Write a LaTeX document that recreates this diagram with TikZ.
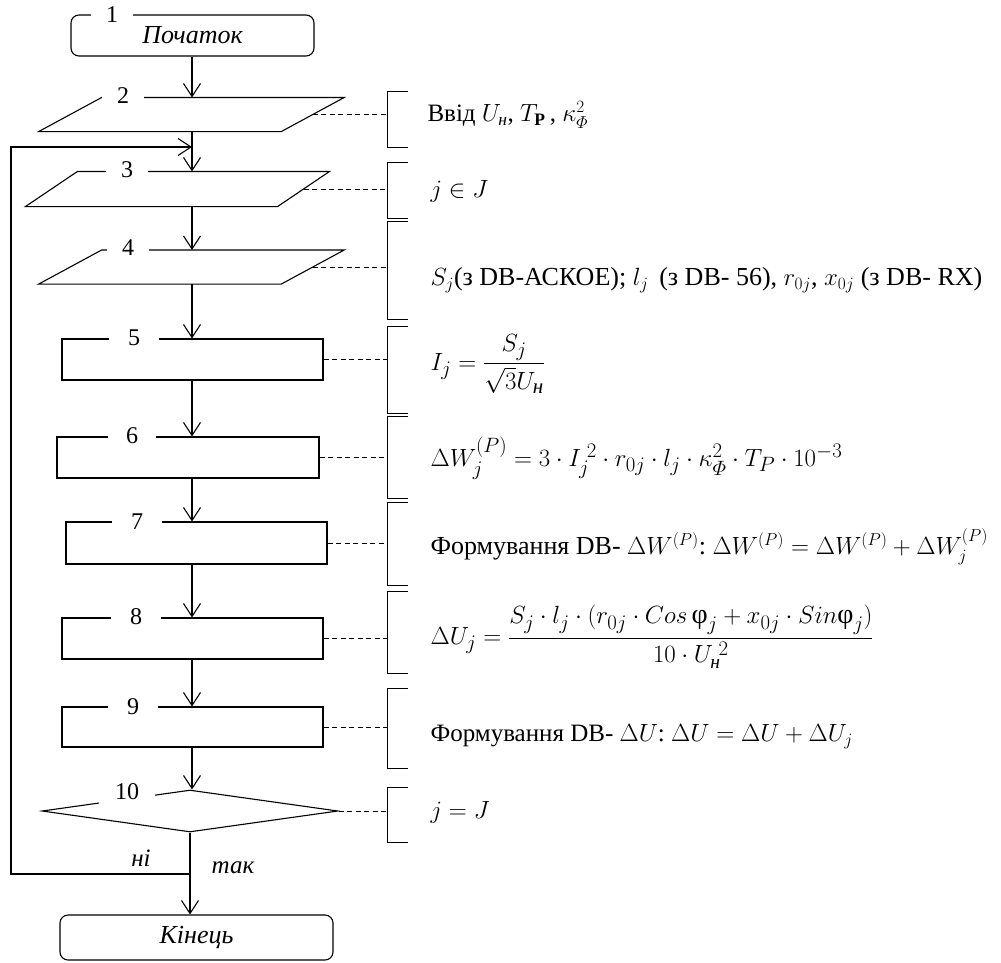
\documentclass[tikz,border=0pt]{standalone}
\usepackage{amsmath}
\usepackage{fontspec}
\setmainfont{Liberation Serif}
\usetikzlibrary{shapes.geometric,arrows.meta}

\begin{document}
\begin{tikzpicture}[x=1pt,y=-1pt,line width=1.1pt,
 >={Straight Barb[length=13pt,width=17pt]},
 term/.style={draw, rounded corners=8pt, inner sep=0pt, minimum height=41pt, font=\fontsize{26}{28}\selectfont\itshape},
 proc/.style={draw, inner sep=0pt, minimum width=261pt, minimum height=41pt},
 inbox/.style={inner sep=0pt, minimum width=241.5pt, minimum height=33pt,
  append after command={\pgfextra{\draw ([xshift=#1]\tikzlastnode.north west) -- ([xshift=#1]\tikzlastnode.north east)
  -- ([xshift=-#1]\tikzlastnode.south east) -- ([xshift=-#1]\tikzlastnode.south west) -- cycle;}}},
 inbox/.default=31.5pt,
 decide/.style={draw, diamond, inner sep=0pt, minimum width=296pt, minimum height=42pt},
 numtag/.style={fill=white, inner sep=0pt, minimum width=42pt, minimum height=22pt, font=\fontsize{24}{26}\selectfont},
 brk/.style={inner sep=0pt, minimum width=19pt},
 leader/.style={dash pattern=on 5pt off 3.5pt, line width=0.9pt},
 txt/.style={anchor=west, inner sep=0pt, font=\fontsize{25}{28}\selectfont},
 eq/.style={anchor=west, inner sep=0pt, font=\fontsize{28}{32}\selectfont},
 lbl/.style={inner sep=0pt, font=\fontsize{25}{28}\selectfont\itshape}]
 \useasboundingbox (0,0) rectangle (1001,962);

 \node[term, minimum width=243pt] (start) at (192.5,35.5) {Початок};
 \node[inbox] (b2) at (191.5,114.5) {};
 \node[inbox=26pt, minimum width=251pt, minimum height=34pt] (b3) at (177.5,189) {};
 \node[inbox] (b4) at (191.5,267) {};
 \node[proc] (b5) at (192.5,359.5) {};
 \node[proc, minimum width=262pt] (b6) at (188,457.5) {};
 \node[proc, minimum height=42pt] (b7) at (196.5,543) {};
 \node[proc] (b8) at (192.5,638.5) {};
 \node[proc, minimum height=40pt] (b9) at (192.5,727) {};
 \node[decide] (b10) at (190,811) {};
 \node[term, minimum width=273pt, minimum height=45pt] (stop) at (196.5,937.5) {Кінець};

 \node[numtag] (n1) at (112,15) {1};
 \node[numtag] (n2) at (123,96) {2};
 \node[numtag] (n3) at (127,170) {3};
 \node[numtag] (n4) at (128,248) {4};
 \node[numtag, minimum width=50pt] (n5) at (134,338) {5};
 \node[numtag, minimum width=48pt] (n6) at (132,436) {6};
 \node[numtag, minimum width=50pt] (n7) at (137,522) {7};
 \node[numtag, minimum width=50pt] (n8) at (136,617) {8};
 \node[numtag, minimum width=50pt] (n9) at (133,707) {9};
 \node[numtag, minimum width=56pt, minimum height=26pt] (n10) at (127,792) {10};

 \coordinate (axis) at (192,0);
 \coordinate (merge) at (192,147);
 \coordinate (back) at (11,874);

 \draw[->] (start.south -| axis) -- (b2.north -| axis);
 \draw (b2.south -| axis) -- (merge);
 \draw[->] (merge) -- (b3.north -| axis);
 \draw[->] (b3.south -| axis) -- (b4.north -| axis);
 \draw[->] (b4.south -| axis) -- (b5.north -| axis);
 \draw[->] (b5.south -| axis) -- (b6.north -| axis);
 \draw[->] (b6.south -| axis) -- (b7.north -| axis);
 \draw[->] (b7.south -| axis) -- (b8.north -| axis);
 \draw[->] (b8.south -| axis) -- (b9.north -| axis);
 \draw[->] (b9.south -| axis) -- (b10.north -| axis);
 \draw[->] (b10.south) -- (b10.south |- stop.north);
 \draw[->] (b10.south |- back) -- (back) |- (merge);

 \node[lbl] (no) at (141,858) {ні};
 \node[lbl] (yes) at (233,868) {так};

 \node[brk, minimum height=55pt] (k2) at (397.5,119.5) {};
 \node[brk, minimum height=55pt] (k3) at (397.5,190.5) {};
 \node[brk, minimum height=97pt] (k4) at (397.5,270.5) {};
 \node[brk, minimum height=86pt] (k5) at (397.5,370) {};
 \node[brk, minimum height=81pt] (k6) at (397.5,457.5) {};
 \node[brk, minimum height=82pt] (k7) at (397.5,544) {};
 \node[brk, minimum height=81pt] (k8) at (397.5,632.5) {};
 \node[brk, minimum height=79pt] (k9) at (397.5,728.5) {};
 \node[brk, minimum height=54pt] (k10) at (397.5,815) {};

 \draw (k2.north east) -- (k2.north west) -- (k2.south west) -- (k2.south east);
 \draw (k3.north east) -- (k3.north west) -- (k3.south west) -- (k3.south east);
 \draw (k4.north east) -- (k4.north west) -- (k4.south west) -- (k4.south east);
 \draw (k5.north east) -- (k5.north west) -- (k5.south west) -- (k5.south east);
 \draw (k6.north east) -- (k6.north west) -- (k6.south west) -- (k6.south east);
 \draw (k7.north east) -- (k7.north west) -- (k7.south west) -- (k7.south east);
 \draw (k8.north east) -- (k8.north west) -- (k8.south west) -- (k8.south east);
 \draw (k9.north east) -- (k9.north west) -- (k9.south west) -- (k9.south east);
 \draw (k10.north east) -- (k10.north west) -- (k10.south west) -- (k10.south east);

 \draw[leader] (b2.east) -- (b2.east -| k2.west);
 \draw[leader] (b3.east) -- (b3.east -| k3.west);
 \draw[leader] (b4.east) -- (b4.east -| k4.west);
 \draw[leader] (b5.east) -- (b5.east -| k5.west);
 \draw[leader] (b6.east) -- (b6.east -| k6.west);
 \draw[leader] (b7.east) -- (b7.east -| k7.west);
 \draw[leader] (b8.east) -- (b8.east -| k8.west);
 \draw[leader] (b9.east) -- (b9.east -| k9.west);
 \draw[leader] (b10.east) -- (b10.east -| k10.west);

 \node[txt] (t2) at (427,115) {Ввід $U_{\textit{н}}$, $T_{\mathbf{P}}$\,, $\kappa_{\varPhi}^{2}$};
 \node[eq] (t3) at (430,191) {$j\in J$};
 \node[txt, font=\fontsize{26}{30}\selectfont] (t4) at (430,280) {$S_{j}$(з DB-АСКОЕ); $l_{j}$\, (з DB- 56), $r_{0j}$, $x_{0j}$ (з DB- RX)};
 \node[eq, font=\fontsize{30}{34}\selectfont] (t5) at (430,364) {$I_{j}=\dfrac{S_{j}}{\sqrt{3}U_{\textit{н}}}$};
 \node[eq] (t6) at (430,458) {$\Delta W_{j}^{(P)}=3\cdot I_{j}^{\;2}\cdot r_{0j}\cdot l_{j}\cdot \kappa_{\varPhi}^{2}\cdot T_{P}\cdot 10^{-3}$};
 \node[txt, font=\fontsize{26}{30}\selectfont] (t7) at (430,547) {Формування DB- $\Delta W^{(P)}$:\ $\Delta W^{(P)}=\Delta W^{(P)}+\Delta W_{j}^{(P)}$};
 \node[eq] (t8) at (430,637) {$\Delta U_{j}=\dfrac{S_{j}\cdot l_{j}\cdot(r_{0j}\cdot Cos\,\text{φ}_{j}+x_{0j}\cdot Sin\text{φ}_{j})}{10\cdot U_{\textit{н}}^{\;2}}$};
 \node[txt] (t9) at (430,737) {Формування DB- $\Delta U$:\ $\Delta U=\Delta U+\Delta U_{j}$};
 \node[eq, font=\fontsize{26}{30}\selectfont] (t10) at (430,812) {$j=J$};
\end{tikzpicture}
\end{document}
